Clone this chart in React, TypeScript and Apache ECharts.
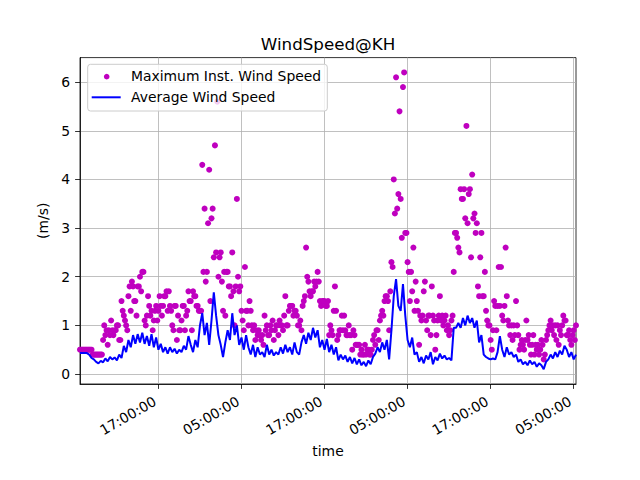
import React, { useEffect, useRef } from "react";
import * as echarts from "echarts";

// time in hours after 05:00 of day 1; first sample at 05:40
const startHour = 40 / 60;
const gustStepHours = 1 / 6; // 10-minute samples
const avgStepHours = 1 / 3; // 20-minute samples

const maxInstWindSpeed = [
  0.5, 0.5, 0.5, 0.5, 0.5, 0.5, 0.5, 0.5, 0.5, 0.5, 0.5, 0.4,
  0.4, 0.4, 0.4, 0.4, 0.4, 0.4, 0.4, 0.4, 0.7, 1.0, 0.8, 0.9,
  0.6, 0.9, 0.8, 1.1, 0.9, 0.8, 0.9, 0.9, 1.0, 1.0, 0.7, 0.7,
  1.5, 1.3, 1.2, 1.1, 1.0, 0.9, 1.6, 1.8, 1.3, 1.9, 1.8, 1.5,
  1.5, 1.2, 1.8, 1.8, 2.0, 1.7, 2.1, 2.1, 1.1, 1.0, 1.2, 1.6,
  1.4, 1.2, 1.3, 0.9, 1.1, 1.3, 1.4, 1.1, 1.3, 1.6, 1.4, 1.2,
  1.4, 1.6, 1.6, 1.7, 1.3, 1.7, 1.4, 1.3, 1.0, 0.9, 1.4, 1.4,
  0.7, 1.2, 0.9, 0.9, 1.1, 1.4, 1.4, 0.9, 1.2, 1.3, 1.7, 1.5,
  1.5, 0.9, 1.7, 1.6, 1.6, 1.4, 1.4, 1.3, 1.3, 1.3, 4.3, 2.1,
  3.4, 1.9, 2.1, 3.1, 4.2, 1.5, 3.2, 3.4, 2.4, 4.7, 2.5, 5.6,
  2.0, 2.4, 2.5, 1.9, 1.3, 2.1, 1.2, 2.1, 2.1, 1.8, 1.8, 1.6,
  2.5, 1.7, 1.0, 1.8, 3.6, 2.0, 1.7, 1.8, 1.3, 1.1, 0.9, 2.2,
  1.3, 1.3, 1.0, 1.5, 1.3, 1.0, 0.9, 1.0, 0.7, 0.9, 0.8, 0.9,
  0.8, 0.7, 0.8, 0.6, 1.2, 0.9, 1.0, 0.8, 0.8, 1.0, 0.9, 1.1,
  0.7, 0.9, 1.0, 1.0, 0.8, 1.1, 1.0, 1.0, 0.9, 1.2, 1.6, 1.0,
  1.0, 1.3, 1.4, 1.4, 1.4, 1.2, 1.3, 1.3, 1.2, 1.0, 1.0, 1.1,
  0.9, 1.4, 1.5, 1.6, 2.6, 2.0, 1.9, 1.7, 1.6, 1.7, 1.7, 1.9,
  1.8, 1.9, 2.1, 1.9, 1.5, 1.4, 1.5, 1.5, 1.5, 1.4, 1.4, 1.5,
  0.8, 1.0, 0.9, 0.8, 1.3, 1.8, 1.3, 0.7, 0.8, 0.9, 0.9, 1.2,
  0.9, 1.2, 0.9, 0.8, 0.8, 1.0, 0.8, 0.8, 0.5, 0.9, 0.8, 0.6,
  0.6, 0.6, 0.6, 0.4, 0.5, 0.4, 0.4, 0.6, 0.4, 0.5, 0.5, 0.4,
  0.4, 0.5, 0.7, 0.8, 0.6, 0.9, 0.9, 0.7, 1.1, 1.2, 1.3, 1.2,
  1.5, 1.6, 1.6, 1.5, 0.9, 1.7, 2.3, 2.2, 4.0, 3.3, 6.1, 3.4,
  3.7, 5.4, 3.6, 2.8, 5.9, 6.2, 2.9, 2.9, 2.3, 2.1, 1.5, 2.1,
  1.7, 2.6, 1.3, 1.9, 1.5, 1.3, 0.6, 1.2, 1.1, 1.2, 1.7, 1.9,
  1.1, 0.9, 1.2, 1.2, 0.8, 1.8, 1.2, 1.1, 0.5, 0.8, 1.1, 1.2,
  1.6, 1.1, 1.2, 1.0, 1.1, 1.2, 0.9, 1.0, 0.8, 0.9, 1.1, 1.2,
  2.1, 2.9, 2.9, 2.8, 2.6, 2.5, 3.8, 3.6, 3.6, 3.8, 3.2, 5.1,
  3.1, 3.7, 3.8, 2.4, 4.1, 3.2, 3.3, 2.9, 3.1, 1.8, 1.6, 2.4,
  2.9, 1.6, 1.6, 2.1, 1.3, 1.1, 1.0, 1.0, 0.7, 0.5, 0.9, 1.5,
  1.4, 0.9, 1.4, 2.2, 1.4, 2.2, 1.2, 1.1, 1.4, 2.6, 1.6, 1.1,
  1.0, 0.8, 1.0, 0.7, 1.0, 0.8, 1.5, 1.0, 0.8, 0.5, 0.6, 0.7,
  0.6, 0.5, 0.7, 1.1, 0.7, 0.8, 0.6, 0.4, 0.6, 0.8, 0.4, 0.6,
  0.5, 0.6, 0.4, 0.5, 0.7, 0.6, 0.3, 0.4, 0.7, 0.8, 0.9, 1.0,
  1.1, 0.9, 1.0, 0.8, 1.0, 0.7, 1.0, 0.6, 0.9, 0.8, 1.0, 1.2,
  1.1, 1.1, 0.8, 0.8, 0.9, 0.7, 0.6, 0.8, 0.9, 0.7, 1.0,
];

const averageWindSpeed = [
  0.43, 0.43, 0.43, 0.43, 0.40, 0.33, 0.30, 0.25, 0.22, 0.27, 0.24, 0.32,
  0.26, 0.35, 0.30, 0.34, 0.28, 0.40, 0.33, 0.58, 0.45, 0.70, 0.55, 0.80,
  0.62, 0.82, 0.65, 0.85, 0.62, 0.78, 0.58, 0.82, 0.55, 0.75, 0.50, 0.62,
  0.45, 0.55, 0.42, 0.55, 0.45, 0.52, 0.42, 0.50, 0.45, 0.58, 0.50, 0.78,
  0.60, 0.45, 0.70, 0.55, 1.00, 1.25, 0.80, 1.05, 0.60, 1.10, 1.68, 1.20,
  0.80, 0.60, 0.35, 0.65, 0.90, 0.70, 1.25, 0.80, 1.00, 0.60, 0.75, 0.50,
  0.80, 0.55, 0.40, 0.60, 0.35, 0.55, 0.40, 0.45, 0.35, 0.60, 0.40, 0.50,
  0.38, 0.45, 0.40, 0.55, 0.42, 0.60, 0.45, 0.55, 0.40, 0.65, 0.45, 0.40,
  0.65, 0.80, 0.62, 0.85, 0.70, 0.95, 0.75, 0.90, 0.55, 0.70, 0.50, 0.72,
  0.45, 0.60, 0.40, 0.55, 0.28, 0.40, 0.30, 0.38, 0.25, 0.35, 0.22, 0.33,
  0.20, 0.30, 0.18, 0.25, 0.16, 0.28, 0.20, 0.35, 0.42, 0.55, 0.45, 0.65,
  0.50, 0.70, 0.30, 0.90, 1.60, 1.95, 1.40, 1.30, 1.85, 1.20, 0.70, 0.55,
  0.75, 0.40, 0.45, 0.25, 0.35, 0.22, 0.38, 0.30, 0.45, 0.20, 0.35, 0.28,
  0.42, 0.32, 0.38, 0.30, 0.33, 0.28, 0.95, 0.95, 1.05, 0.95, 1.15, 1.00,
  1.20, 1.05, 1.15, 0.95, 1.10, 0.65, 0.80, 0.40, 0.35, 0.32, 0.30, 0.32,
  0.30, 0.45, 0.78, 0.50, 0.35, 0.55, 0.40, 0.45, 0.35, 0.40, 0.25, 0.30,
  0.20, 0.25, 0.18, 0.28, 0.20, 0.25, 0.15, 0.22, 0.18, 0.10, 0.25, 0.30,
  0.40, 0.32, 0.45, 0.35, 0.48, 0.40, 0.58, 0.50, 0.35, 0.45, 0.30, 0.40,
];

const tickHours = [12, 24, 36, 48, 60, 72];
const tickLabels = ["17:00:00", "05:00:00", "17:00:00", "05:00:00", "17:00:00", "05:00:00"];
const yTicks = [0, 1, 2, 3, 4, 5, 6];

const FONT = "DejaVu Sans";

export default function App() {
  const ref = useRef<HTMLDivElement>(null);

  useEffect(() => {
    document.body.style.margin = "0";
    if (!ref.current) return;
    const chart = echarts.init(ref.current, null, { renderer: "svg" });

    const gustData = maxInstWindSpeed.map((v, i) => [startHour + i * gustStepHours, v]);
    const avgData = averageWindSpeed.map((v, i) => [startHour + i * avgStepHours, v]);
    const xMax = startHour + (maxInstWindSpeed.length - 1) * gustStepHours;

    const gridColor = "#b0b0b0";

    chart.setOption({
      animation: false,
      backgroundColor: "#ffffff",
      textStyle: { fontFamily: FONT },
      grid: {
        left: 80,
        right: 64,
        top: 57.6,
        bottom: 96,
        show: true,
        borderColor: "#000000",
        borderWidth: 0.8,
        backgroundColor: "transparent",
      },
      xAxis: {
        type: "value",
        min: startHour,
        max: xMax,
        name: "time",
        nameLocation: "middle",
        nameGap: 57,
        nameTextStyle: { fontSize: 13.9, color: "#000", fontFamily: FONT },
        axisLine: { show: true, onZero: false, lineStyle: { color: "#000", width: 0.8 } },
        axisTick: {
          show: true,
          length: 4.9,
          customValues: tickHours,
          lineStyle: { color: "#000", width: 0.8 },
        },
        axisLabel: {
          customValues: tickHours,
          rotate: 30,
          margin: 14,
          padding: [0, 4, 0, 0],
          fontSize: 13.9,
          color: "#000",
          fontFamily: FONT,
          formatter: (v: number) => {
            const idx = tickHours.indexOf(Math.round(v));
            return idx >= 0 ? tickLabels[idx] : "";
          },
        },
        splitLine: { show: true, lineStyle: { color: gridColor, width: 0.8 } },
      },
      yAxis: {
        type: "value",
        min: -0.205,
        max: 6.505,
        name: "(m/s)",
        nameLocation: "middle",
        nameGap: 21,
        nameTextStyle: { fontSize: 13.9, color: "#000", fontFamily: FONT },
        axisLine: { show: true, onZero: false, lineStyle: { color: "#000", width: 0.8 } },
        axisTick: {
          show: true,
          length: 4.9,
          customValues: yTicks,
          lineStyle: { color: "#000", width: 0.8 },
        },
        axisLabel: {
          customValues: yTicks,
          margin: 10,
          fontSize: 13.9,
          color: "#000",
          fontFamily: FONT,
          formatter: (v: number) => String(Math.round(v)),
        },
        splitLine: { show: true, lineStyle: { color: gridColor, width: 0.8 } },
      },
      series: [
        {
          name: "Maximum Inst. Wind Speed",
          type: "scatter",
          data: gustData,
          symbol: "circle",
          symbolSize: 6,
          itemStyle: { color: "#bf00bf", opacity: 1 },
          z: 2,
        },
        {
          name: "Average Wind Speed",
          type: "line",
          data: avgData,
          showSymbol: false,
          symbol: "none",
          lineStyle: { color: "#0000ff", width: 2 },
          itemStyle: { color: "#0000ff" },
          z: 3,
        },
      ],
      graphic: [
        {
          type: "text",
          x: 328,
          y: 44,
          z: 100,
          style: {
            text: "WindSpeed@KH",
            fill: "#000",
            font: `normal 16.7px "${FONT}"`,
            textAlign: "center",
            textVerticalAlign: "middle",
          },
        },
        {
          type: "group",
          z: 100,
          children: [
            {
              type: "rect",
              z: 100,
              shape: { x: 87.7, y: 64.3, width: 239.6, height: 46.7, r: 2.8 },
              style: { fill: "rgba(255,255,255,0.8)", stroke: "#cccccc", lineWidth: 1 },
            },
            {
              type: "circle",
              z: 101,
              shape: { cx: 106.7, cy: 76.7, r: 2.8 },
              style: { fill: "#bf00bf" },
            },
            {
              type: "line",
              z: 101,
              shape: { x1: 91.7, y1: 97.3, x2: 120.7, y2: 97.3 },
              style: { stroke: "#0000ff", lineWidth: 2 },
            },
            {
              type: "text",
              z: 101,
              x: 131,
              y: 76.2,
              style: {
                text: "Maximum Inst. Wind Speed",
                fill: "#000",
                font: `normal 13.9px "${FONT}"`,
                textAlign: "left",
                textVerticalAlign: "middle",
              },
            },
            {
              type: "text",
              z: 101,
              x: 131,
              y: 97.2,
              style: {
                text: "Average Wind Speed",
                fill: "#000",
                font: `normal 13.9px "${FONT}"`,
                textAlign: "left",
                textVerticalAlign: "middle",
              },
            },
          ],
        },
      ],
    });

    return () => {
      chart.dispose();
    };
  }, []);

  return <div ref={ref} style={{ width: 640, height: 480 }} />;
}
